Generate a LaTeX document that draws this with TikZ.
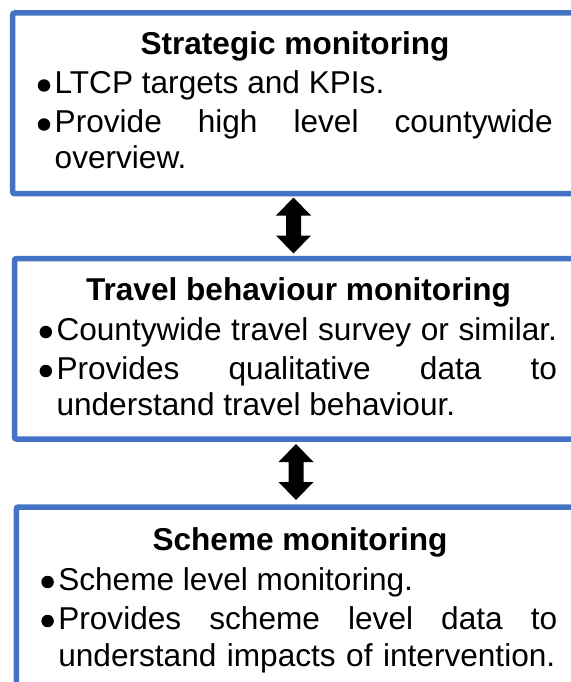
\documentclass[tikz,border=0pt]{standalone}
\usepackage{fontspec}
\setmainfont{Liberation Sans}
\definecolor{boxblue}{HTML}{4472C4}
\begin{document}
\begin{tikzpicture}[x=1bp,y=-1bp,
  box/.style={draw=boxblue, line width=5.5bp, rounded corners=2bp, inner sep=0, outer sep=0, anchor=north west},
  titletext/.style={anchor=base, font=\bfseries\fontsize{31.6bp}{38bp}\selectfont, inner sep=0, outer sep=0},
  bodytext/.style={anchor=base west, font=\fontsize{31.6bp}{38bp}\selectfont, inner sep=0, outer sep=0},
  bulletdot/.style={circle, fill=black, inner sep=0, outer sep=0, minimum size=12.5bp},
  dblarrow/.pic={\fill[black] (0,-28) -- (17.5,-10) -- (7.5,-10) -- (7.5,10) -- (17.5,10) -- (0,28)
        -- (-17.5,10) -- (-7.5,10) -- (-7.5,-10) -- (-17.5,-10) -- cycle;}]
\useasboundingbox (0,0) rectangle (571,682);
\fill[white] (0,0) rectangle (571,682);

% Box 1
\node[box, minimum width=575bp, minimum height=180.7bp] (box1) at (12.7,13) {};
\node[titletext] (t1) at (295,55) {Strategic monitoring};
\node[bulletdot] (d1a) at (44,85.5) {};
\node[bodytext] (l1a) at (54.7,94) {LTCP targets and KPIs.};
\node[bulletdot] (d1b) at (44,124.5) {};
\node[bodytext] (l1b) at (54.7,133) {\makebox[498bp][s]{Provide high level countywide}};
\node[bodytext] (l1c) at (54.7,168.5) {overview.};

% Arrow 1
\coordinate (a1) at (293.5,225.5);
\pic at (a1) {dblarrow};

% Box 2
\node[box, minimum width=575bp, minimum height=180.5bp] (box2) at (14.5,258.5) {};
\node[titletext] (t2) at (298.5,300.5) {Travel behaviour monitoring};
\node[bulletdot] (d2a) at (45.8,332) {};
\node[bodytext] (l2a) at (56.5,340.5) {\makebox[500.5bp][s]{Countywide travel survey or similar.}};
\node[bulletdot] (d2b) at (45.8,371) {};
\node[bodytext] (l2b) at (56.5,379.5) {\makebox[500.5bp][s]{Provides qualitative data to}};
\node[bodytext] (l2c) at (56.5,415.5) {understand travel behaviour.};

% Arrow 2
\coordinate (a2) at (296,472);
\pic at (a2) {dblarrow};

% Box 3
\node[box, minimum width=575bp, minimum height=200bp] (box3) at (16.3,507) {};
\node[titletext] (t3) at (300,550) {Scheme monitoring};
\node[bulletdot] (d3a) at (47.6,582) {};
\node[bodytext] (l3a) at (58.3,590.5) {Scheme level monitoring.};
\node[bulletdot] (d3b) at (47.6,621) {};
\node[bodytext] (l3b) at (58.3,629.5) {\makebox[499bp][s]{Provides scheme level data to}};
\node[bodytext] (l3c) at (58.3,666) {\makebox[497bp][s]{understand impacts of intervention.}};
\end{tikzpicture}
\end{document}
